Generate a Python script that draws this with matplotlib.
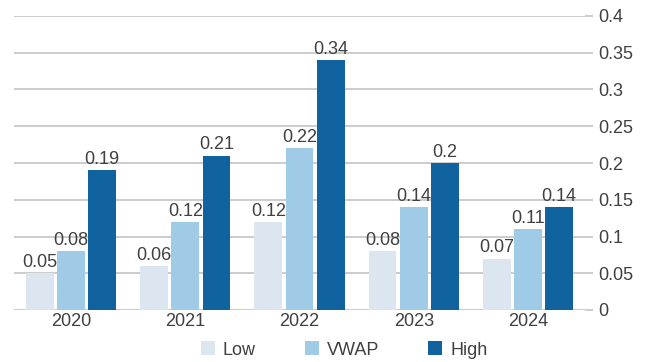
import numpy as np
import matplotlib.pyplot as plt
from matplotlib.ticker import FuncFormatter

years = ['2020', '2021', '2022', '2023', '2024']
low = [0.05, 0.06, 0.12, 0.08, 0.07]
vwap = [0.08, 0.12, 0.22, 0.14, 0.11]
high = [0.19, 0.21, 0.34, 0.2, 0.14]

series_names = ['Low', 'VWAP', 'High']
colors = ['#dce6f1', '#9fcbe6', '#10639e']

grid_col = '#c4c4c4'
text_col = '#404040'
fs = 13

plt.rcParams['font.family'] = ['Liberation Sans', 'DejaVu Sans']

fig = plt.figure(figsize=(6.5, 3.62), dpi=100)
ax = fig.add_axes([14 / 650, 52 / 362, 571 / 650, 294 / 362])

x = np.arange(len(years))
width = 0.2425
step = 0.273

for i, (vals, name, c) in enumerate(zip([low, vwap, high], series_names, colors)):
    pos = x + (i - 1) * step
    bars = ax.bar(pos, vals, width, color=c, label=name, zorder=3)
    for b, v in zip(bars, vals):
        ax.text(b.get_x() + b.get_width() / 2, v + 0.003, '%g' % v,
                ha='center', va='bottom', fontsize=fs, color=text_col, zorder=4)

ax.set_xlim(-0.5, len(years) - 0.5)
ax.set_ylim(0, 0.4)
ax.set_yticks(np.arange(0, 0.401, 0.05))
ax.yaxis.set_major_formatter(FuncFormatter(lambda v, p: '%g' % round(v, 2)))
ax.yaxis.tick_right()
ax.grid(axis='y', color=grid_col, linewidth=1.2, zorder=0)
ax.set_axisbelow(True)

ax.set_xticks(x)
ax.set_xticklabels(years)
ax.tick_params(axis='x', length=0, pad=2.5, labelsize=fs, labelcolor=text_col)
ax.tick_params(axis='y', length=6, width=1.2, color=grid_col, pad=3.5,
               labelsize=fs, labelcolor=text_col)

for s in ax.spines.values():
    s.set_visible(False)

leg = fig.legend(loc='center', bbox_to_anchor=(344 / 650, 12 / 362), ncol=3,
                 frameon=False, fontsize=fs, handlelength=0.78, handleheight=0.78,
                 handletextpad=0.45, columnspacing=2.7, borderaxespad=0)
for t in leg.get_texts():
    t.set_color(text_col)

fig.savefig('out.png', dpi=100)
